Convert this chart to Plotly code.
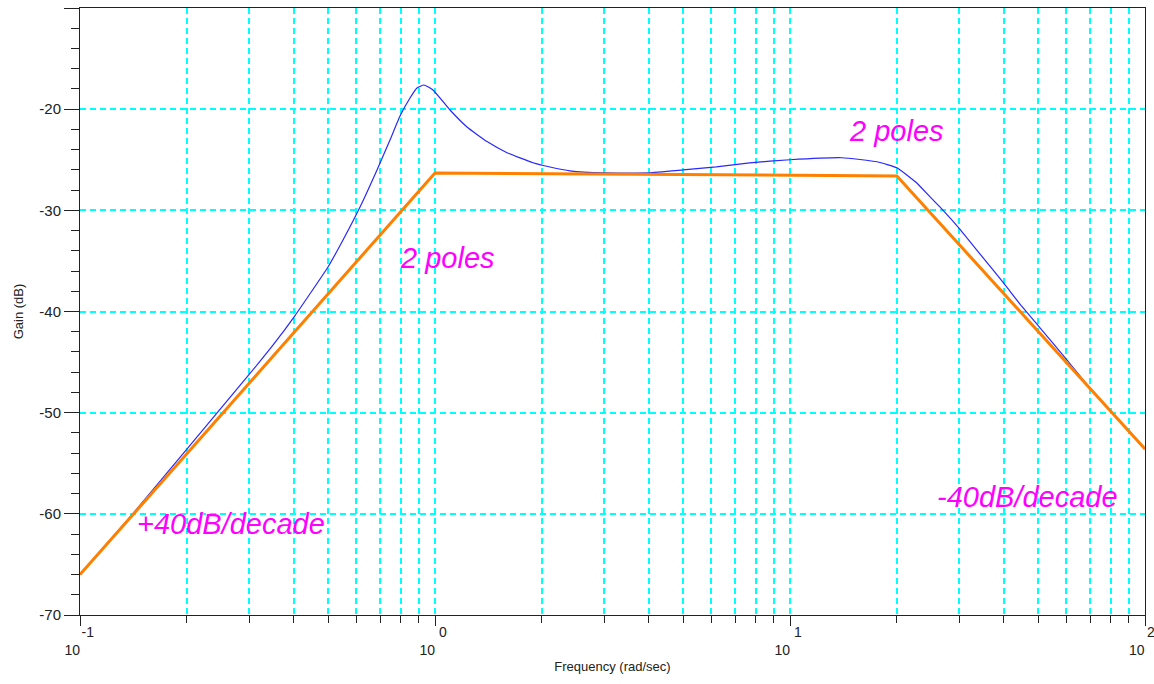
import plotly.graph_objects as go
import numpy as np

# Measured magnitude response (rad/sec, dB)
freq = [0.1, 0.14, 0.2, 0.3, 0.35, 0.4034, 0.4995, 0.5506, 0.6149, 0.6865, 0.7468, 0.797, 0.8503,
        0.8897, 0.9311, 0.9871, 1.1023, 1.2307, 1.4013, 1.5956, 1.8881, 2.108, 2.4, 3.0, 4.0,
        5.0, 6.2, 7.7, 10, 14, 17.6, 20, 22.6, 25, 27, 30, 35, 40, 45, 50, 60, 70, 81, 100]
gain = [-66.0, -60.1, -53.6, -46.2, -43.3, -40.4, -35.6, -32.93, -29.67, -26.01, -23.05, -20.68, -18.9,
        -17.91, -17.61, -18.1, -20.08, -21.76, -23.2, -24.3, -25.3, -25.72, -26.1, -26.3, -26.3,
        -26.0, -25.7, -25.3, -25.0, -24.8, -25.2, -25.8, -27.2, -28.8, -30.0, -31.8, -34.7, -37.2,
        -39.5, -41.4, -44.7, -47.6, -50.1, -53.6]

# Asymptotic approximation
asym_freq = [0.1, 1, 20, 100]
asym_gain = [-66.0, -26.3, -26.6, -53.6]

x_tickvals = [0.1, 1, 10, 100]
x_exponents = ["-1", "0", "1", "2"]
y_tickvals = [-10, -20, -30, -40, -50, -60, -70]
y_ticktext = ["-10", "-20", "-30", "-40", "-50", "-60", "-70"]

annot_texts = ["2 poles", "2 poles", "+40dB/decade", "-40dB/decade"]
annot_x = [1.082, 20.0, 0.266, 46.6]
annot_y = [-34.7, -22.2, -61.0, -58.3]

NB = "\u00a0"
# last decade label is placed separately so it stays inside the page edge
x_ticktext = [NB * 4 + e + "<br>10" + NB * 4 for e in x_exponents[:-1]] + [""]
minor_x = [m * 10 ** d for d in (-1, 0, 1) for m in range(2, 10)]

FONT = "Liberation Sans, Arial"
GRID = "#00ffff"
AXC = "#222222"
GW = 1.6

fig = go.Figure()
fig.add_trace(go.Scatter(x=freq, y=gain, mode="lines",
                         line=dict(color="#2828ff", width=1.2, shape="spline", smoothing=0.4),
                         showlegend=False, hoverinfo="skip"))
fig.add_trace(go.Scatter(x=asym_freq, y=asym_gain, mode="lines",
                         line=dict(color="#ff8000", width=3),
                         showlegend=False, hoverinfo="skip"))

for t, ax_, ay_ in zip(annot_texts, annot_x, annot_y):
    fig.add_annotation(x=np.log10(ax_), y=ay_, text="<i>" + t + "</i>", showarrow=False,
                       font=dict(family=FONT, size=29, color="#ff00ff"),
                       xanchor="center", yanchor="middle")

# 10^2 tick label at the right end of the axis
last_x = np.log10(x_tickvals[-1])
fig.add_annotation(x=last_x, xref="x", y=-0.058, yref="paper", text="10", showarrow=False,
                   xanchor="right", yanchor="middle", borderpad=0, xshift=1,
                   font=dict(family=FONT, size=14, color=AXC))
fig.add_annotation(x=last_x, xref="x", y=-0.028, yref="paper", text=x_exponents[-1], showarrow=False,
                   xanchor="left", yanchor="middle", borderpad=0, xshift=1,
                   font=dict(family=FONT, size=14, color=AXC))

grid_dash = "6px,4px"
fig.update_xaxes(type="log", range=[-1, 2], tickvals=x_tickvals, ticktext=x_ticktext,
                 showgrid=True, gridcolor=GRID, griddash=grid_dash, gridwidth=GW,
                 ticks="outside", ticklen=10, tickcolor=AXC, tickwidth=1,
                 ticklabelstandoff=-6, ticklabeloverflow="allow",
                 showline=True, linecolor=AXC, linewidth=1, mirror=True,
                 tickfont=dict(family=FONT, size=14, color=AXC),
                 title=dict(text="Frequency (rad/sec)", standoff=4,
                            font=dict(family=FONT, size=13, color=AXC)),
                 minor=dict(tickvals=minor_x, showgrid=True, gridcolor=GRID, griddash=grid_dash,
                            gridwidth=GW, ticks="outside", ticklen=7, tickcolor=AXC),
                 zeroline=False)
fig.update_yaxes(range=[-70, -10], tickvals=y_tickvals, ticktext=y_ticktext,
                 showgrid=True, gridcolor=GRID, griddash=grid_dash, gridwidth=GW,
                 ticks="outside", ticklen=15, tickcolor=AXC, tickwidth=1,
                 showline=True, linecolor=AXC, linewidth=1, mirror=True,
                 tickfont=dict(family=FONT, size=15, color=AXC),
                 title=dict(text="Gain (dB)", standoff=12,
                            font=dict(family=FONT, size=13, color=AXC)),
                 minor=dict(dtick=2, ticks="outside", ticklen=8, tickcolor=AXC, showgrid=False),
                 zeroline=False)

fig.update_layout(width=1154, height=684,
                  margin=dict(l=80, r=9, t=8, b=69, autoexpand=False),
                  plot_bgcolor="white", paper_bgcolor="white")

fig.write_html("out.html")
